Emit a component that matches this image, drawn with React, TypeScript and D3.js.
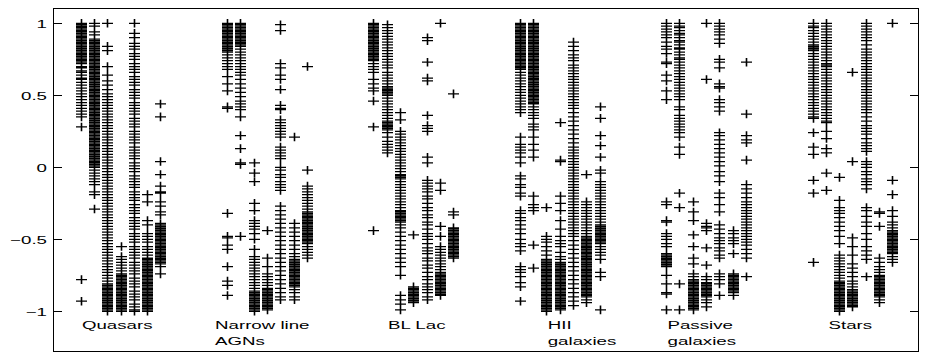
import React from 'react';
import * as d3 from 'd3';

// Category labels (one entry per line)
const categories = [
  ['Quasars'],
  ['Narrow line', 'AGNs'],
  ['BL Lac'],
  ['HII', 'galaxies'],
  ['Passive', 'galaxies'],
  ['Stars'],
];

const yTicks = [1, 0.5, 0, -0.5, -1];
const yTickLabels = ['1', '0.5', '0', '\u22120.5', '\u22121'];

// Values, one array per column (7 columns per category)
const quasars = [
  [1, .995, .99, .98, .975, .97, .96, .95, .945, .94, .93, .92, .91, .90, .89, .88, .87, .86, .85, .84, .83, .82, .81, .80, .79, .78, .77, .76, .75, .74, .73, .72, .70, .69, .67, .66, .64, .62, .61, .59, .57, .55, .53, .51, .49, .47, .45, .43, .41, .39, .37, .35, .28, -.78, -.93],
  [1, .98, .94, .92, .89, .88, .87, .86, .85, .84, .83, .82, .81, .80, .79, .78, .77, .76, .75, .74, .73, .72, .71, .70, .69, .68, .67, .66, .65, .64, .63, .62, .61, .60, .59, .58, .57, .56, .55, .54, .53, .52, .51, .50, .49, .48, .47, .46, .45, .44, .43, .42, .41, .40, .39, .38, .37, .36, .35, .34, .33, .32, .31, .30, .29, .28, .27, .26, .25, .24, .23, .22, .21, .20, .19, .18, .17, .16, .15, .14, .13, .12, .11, .10, .09, .08, .07, .06, .05, .04, .03, .02, .01, 0, -.02, -.04, -.06, -.08, -.10, -.12, -.17, -.19, -.29],
  [1, .84, .81, .70, .64, .60, .57, .54, .51, .49, .47, .45, .43, .41, .39, .37, .35, .33, .31, .29, .27, .25, .23, .21, .19, .17, .15, .13, .11, .09, .07, .05, .03, .01, -.01, -.03, -.05, -.07, -.09, -.11, -.13, -.15, -.17, -.19, -.21, -.23, -.25, -.27, -.29, -.31, -.33, -.35, -.37, -.39, -.41, -.43, -.45, -.47, -.49, -.51, -.53, -.55, -.57, -.59, -.61, -.63, -.65, -.67, -.69, -.71, -.73, -.75, -.77, -.79, -.81, -.82, -.83, -.84, -.85, -.86, -.87, -.88, -.89, -.90, -.91, -.92, -.93, -.94, -.95, -.96, -.97, -.98, -.99, -1],
  [-.55, -.62, -.64, -.66, -.68, -.70, -.72, -.74, -.75, -.76, -.77, -.78, -.79, -.80, -.81, -.82, -.83, -.84, -.85, -.86, -.87, -.88, -.89, -.90, -.91, -.92, -.93, -.94, -.95, -.96, -.97, -.98, -.99, -1],
  [1, .93, .90, .86, .84, .82, .79, .77, .75, .72, .70, .68, .66, .63, .61, .59, .57, .54, .52, .50, .48, .45, .43, .41, .39, .37, .34, .32, .30, .28, .25, .23, .21, .19, .17, .14, .12, .10, .08, .06, .03, .01, -.01, -.03, -.06, -.08, -.10, -.12, -.14, -.17, -.19, -.21, -.23, -.26, -.28, -.30, -.32, -.35, -.37, -.39, -.41, -.43, -.46, -.48, -.50, -.52, -.55, -.57, -.59, -.61, -.63, -.66, -.68, -.70, -.72, -.74, -.77, -.79, -.81, -.83, -.86, -.88, -.90, -.92, -.95, -.97, -.99, -1],
  [-.19, -.24, -.37, -.40, -.46, -.48, -.50, -.52, -.55, -.57, -.59, -.61, -.63, -.64, -.65, -.66, -.67, -.68, -.69, -.70, -.71, -.72, -.73, -.74, -.75, -.76, -.77, -.78, -.79, -.80, -.81, -.82, -.83, -.84, -.85, -.86, -.87, -.88, -.89, -.90, -.91, -.92, -.93, -.94, -.95, -.96, -.97, -.98, -.99, -1],
  [.44, .35, .04, -.05, -.13, -.17, -.18, -.24, -.27, -.31, -.33, -.39, -.40, -.41, -.42, -.43, -.44, -.45, -.46, -.47, -.48, -.49, -.50, -.51, -.52, -.53, -.54, -.55, -.56, -.57, -.58, -.59, -.60, -.61, -.62, -.63, -.64, -.65, -.66, -.67, -.69, -.74],
];

const narrowLineAgns = [
  [1, .99, .98, .97, .96, .95, .94, .93, .92, .91, .90, .89, .88, .87, .86, .85, .84, .83, .82, .81, .80, .78, .76, .74, .72, .70, .68, .63, .58, .53, .42, .41, -.32, -.48, -.49, -.54, -.57, -.69, -.79, -.82, -.89],
  [1, .99, .98, .97, .96, .95, .94, .93, .92, .91, .90, .89, .88, .87, .86, .85, .84, .82, .80, .78, .76, .74, .72, .70, .68, .66, .64, .61, .58, .55, .52, .49, .46, .44, .42, .40, .35, .22, .13, .03, .02, -.48],
  [.03, -.04, -.10, -.25, -.30, -.37, -.39, -.41, -.43, -.46, -.50, -.57, -.62, -.64, -.66, -.68, -.70, -.72, -.74, -.76, -.78, -.80, -.82, -.84, -.86, -.87, -.88, -.89, -.90, -.91, -.92, -.93, -.94, -.95, -.96, -.97, -.98, -.99, -1],
  [-.44, -.63, -.69, -.74, -.76, -.78, -.80, -.82, -.84, -.85, -.86, -.87, -.88, -.89, -.90, -.91, -.92, -.93, -.94, -.95, -.96, -.97, -.98, -.99],
  [.99, .95, .72, .69, .64, .61, .54, .43, .41, .40, .33, .31, .29, .27, .25, .23, .21, .14, .12, .10, .08, .06, 0, -.02, -.05, -.07, -.10, -.12, -.14, -.16, -.27, -.30, -.33, -.36, -.39, -.42, -.45, -.48, -.51, -.54, -.57, -.60, -.63, -.66, -.69, -.72, -.75, -.78, -.81, -.84, -.87, -.90, -.92],
  [.21, -.39, -.42, -.45, -.48, -.51, -.54, -.57, -.60, -.62, -.64, -.65, -.66, -.67, -.68, -.69, -.70, -.71, -.72, -.73, -.74, -.75, -.76, -.77, -.78, -.79, -.80, -.81, -.82, -.83, -.85, -.87, -.90, -.92],
  [.70, -.02, -.13, -.15, -.17, -.19, -.21, -.23, -.25, -.27, -.29, -.31, -.32, -.33, -.34, -.35, -.36, -.37, -.38, -.39, -.40, -.41, -.42, -.43, -.44, -.45, -.46, -.47, -.48, -.49, -.50, -.51, -.52, -.53, -.55, -.57, -.59, -.61, -.63],
];

const blLac = [
  [1, .99, .98, .97, .96, .95, .94, .93, .92, .91, .90, .89, .88, .87, .86, .85, .84, .83, .82, .81, .80, .79, .78, .77, .76, .75, .74, .72, .70, .68, .66, .61, .58, .55, .53, .46, .28, -.44],
  [.99, .97, .95, .93, .91, .89, .87, .85, .83, .81, .79, .77, .75, .73, .71, .69, .66, .64, .62, .60, .58, .56, .55, .54, .53, .52, .51, .50, .48, .46, .44, .42, .40, .38, .36, .34, .32, .31, .30, .29, .28, .27, .26, .24, .21, .18, .16, .14, .12, .10],
  [.38, .33, .25, .23, .21, .19, .17, .15, .13, .11, .09, .07, .05, .03, .01, -.01, -.03, -.05, -.06, -.07, -.08, -.10, -.12, -.14, -.16, -.18, -.20, -.22, -.24, -.26, -.28, -.30, -.31, -.32, -.33, -.34, -.35, -.36, -.37, -.38, -.40, -.42, -.45, -.48, -.51, -.54, -.57, -.60, -.63, -.66, -.69, -.75, -.89, -.92, -.95, -.99],
  [-.47, -.83, -.84, -.85, -.86, -.87, -.88, -.89, -.90, -.91, -.92, -.93, -.94],
  [.90, .88, .73, .62, .60, .36, .29, .27, .25, .07, .03, -.09, -.11, -.13, -.15, -.17, -.20, -.22, -.25, -.28, -.30, -.33, -.35, -.38, -.40, -.43, -.46, -.48, -.50, -.53, -.56, -.58, -.60, -.63, -.65, -.68, -.70, -.73, -.76, -.78, -.81, -.83, -.85, -.87, -.90, -.92],
  [1, -.11, -.16, -.41, -.48, -.55, -.57, -.59, -.61, -.63, -.65, -.67, -.69, -.71, -.73, -.74, -.75, -.76, -.77, -.78, -.79, -.80, -.81, -.82, -.83, -.84, -.85, -.86, -.87, -.88, -.89],
  [.51, -.31, -.33, -.42, -.43, -.44, -.45, -.46, -.47, -.48, -.49, -.50, -.51, -.52, -.53, -.54, -.55, -.56, -.57, -.58, -.59, -.60, -.61, -.62, -.63],
];

const hiiGalaxies = [
  [1, .99, .98, .97, .96, .95, .94, .93, .92, .91, .90, .89, .88, .87, .86, .85, .84, .83, .82, .81, .80, .79, .78, .77, .76, .75, .74, .73, .72, .71, .70, .69, .68, .66, .64, .62, .60, .58, .56, .54, .52, .50, .48, .46, .44, .42, .40, .38, .21, .16, .14, .12, .10, .07, .03, -.06, -.08, -.12, -.14, -.18, -.20, -.30, -.32, -.35, -.37, -.40, -.43, -.46, -.50, -.53, -.55, -.58, -.69, -.71, -.73, -.76, -.80, -.83, -.93],
  [1, .99, .98, .97, .96, .95, .94, .93, .92, .91, .90, .89, .88, .87, .86, .85, .84, .83, .82, .81, .80, .79, .78, .77, .76, .75, .74, .73, .72, .71, .70, .69, .68, .67, .66, .65, .64, .63, .62, .61, .60, .59, .58, .57, .56, .55, .54, .53, .52, .51, .50, .49, .48, .47, .46, .45, .44, .42, .40, .38, .36, .34, .30, .28, .26, .21, .16, .12, .07, -.20, -.26, -.28, -.30, -.54, -.70],
  [-.28, -.48, -.50, -.52, -.55, -.58, -.61, -.64, -.65, -.66, -.67, -.68, -.69, -.70, -.71, -.72, -.73, -.74, -.75, -.76, -.77, -.78, -.79, -.80, -.81, -.82, -.83, -.84, -.85, -.86, -.87, -.88, -.89, -.90, -.91, -.92, -.93, -.94, -.95, -.96, -.97, -.98, -.99, -1],
  [.31, .05, .04, -.20, -.25, -.30, -.37, -.43, -.48, -.51, -.53, -.55, -.59, -.62, -.64, -.66, -.67, -.68, -.69, -.70, -.71, -.72, -.73, -.74, -.75, -.76, -.77, -.78, -.79, -.80, -.81, -.82, -.83, -.84, -.85, -.86, -.87, -.88, -.89, -.90, -.91, -.92, -.93, -.94, -.95, -.96, -.97, -.98, -.99],
  [.87, .84, .81, .78, .76, .74, .71, .69, .67, .65, .63, .61, .59, .57, .55, .53, .51, .49, .47, .45, .43, .41, .38, .35, .32, .29, .26, .23, .20, .17, .14, .12, .10, .08, .06, .04, .02, 0, -.02, -.04, -.06, -.08, -.10, -.12, -.14, -.16, -.18, -.20, -.22, -.24, -.26, -.28, -.30, -.32, -.34, -.36, -.38, -.40, -.42, -.44, -.46, -.48, -.51, -.54, -.57, -.60, -.63, -.66, -.69, -.72, -.75, -.78, -.81, -.84, -.87, -.90, -.93, -.96],
  [-.05, -.24, -.26, -.28, -.30, -.32, -.34, -.36, -.38, -.40, -.42, -.44, -.46, -.48, -.49, -.50, -.51, -.52, -.53, -.54, -.55, -.56, -.57, -.58, -.59, -.60, -.61, -.62, -.63, -.64, -.65, -.66, -.67, -.68, -.69, -.70, -.71, -.72, -.73, -.74, -.75, -.76, -.77, -.78, -.79, -.80, -.81, -.82, -.83, -.84, -.85, -.86, -.87, -.88, -.89, -.90, -.92, -.94],
  [.42, .34, .22, .15, .07, -.02, -.04, -.10, -.12, -.14, -.16, -.18, -.20, -.22, -.24, -.26, -.28, -.30, -.32, -.34, -.36, -.38, -.40, -.41, -.42, -.43, -.44, -.45, -.46, -.47, -.48, -.49, -.50, -.51, -.52, -.53, -.55, -.57, -.59, -.61, -.64, -.73, -.76, -.99],
];

const passiveGalaxies = [
  [1, .98, .96, .94, .92, .90, .87, .84, .82, .79, .73, .72, .64, .60, .53, .47, -.24, -.26, -.37, -.38, -.46, -.48, -.50, -.53, -.55, -.60, -.61, -.62, -.63, -.64, -.65, -.66, -.67, -.68, -.69, -.75, -.81, -.87, -.88, -.99],
  [1, .98, .97, .95, .93, .92, .90, .88, .87, .85, .83, .82, .80, .78, .76, .75, .73, .71, .69, .67, .65, .63, .61, .59, .57, .55, .53, .51, .49, .47, .42, .40, .36, .34, .32, .30, .28, .26, .24, .21, .14, .09, -.18, -.28, -.81, -.99],
  [-.24, -.31, -.37, -.47, -.55, -.63, -.67, -.74, -.76, -.78, -.79, -.80, -.81, -.82, -.83, -.84, -.85, -.86, -.87, -.88, -.89, -.90, -.91, -.92, -.93, -.94, -.95, -.96, -.97, -.98, -.99],
  [1, .61, -.39, -.41, -.42, -.44, -.56, -.68, -.76, -.78, -.80, -.81, -.82, -.83, -.84, -.85, -.86, -.87, -.88, -.89, -.90, -.92, -.94, -.97],
  [1, .98, .96, .94, .92, .89, .86, .75, .73, .69, .58, .56, .55, .47, .45, .42, .39, .24, .22, .19, .16, .13, .10, .07, .04, .01, -.03, -.06, -.10, -.18, -.21, -.26, -.31, -.40, -.43, -.46, -.49, -.51, -.53, -.56, -.58, -.61, -.63, -.74, -.76, -.78, -.81, -.89],
  [-.44, -.46, -.49, -.51, -.53, -.60, -.74, -.75, -.76, -.77, -.78, -.79, -.80, -.81, -.82, -.83, -.84, -.85, -.86, -.87, -.89],
  [.73, .37, .22, .19, .17, .05, -.12, -.15, -.18, -.21, -.24, -.26, -.28, -.30, -.32, -.34, -.36, -.38, -.40, -.42, -.44, -.46, -.48, -.50, -.52, -.54, -.57, -.60, -.63, -.76],
];

const stars = [
  [1, .98, .97, .95, .93, .91, .89, .87, .85, .84, .83, .82, .81, .79, .77, .75, .73, .71, .69, .67, .65, .63, .61, .59, .57, .55, .53, .51, .49, .47, .45, .43, .41, .39, .37, .35, .34, .24, .14, .09, -.09, -.18, -.66],
  [1, .98, .96, .94, .92, .90, .88, .86, .84, .82, .80, .78, .76, .74, .72, .71, .70, .68, .66, .64, .62, .60, .58, .56, .54, .52, .50, .48, .46, .44, .42, .40, .38, .36, .34, .32, .31, .25, .20, .13, .10, -.04, -.16],
  [-.07, -.23, -.28, -.30, -.32, -.35, -.38, -.41, -.44, -.48, -.53, -.61, -.63, -.65, -.67, -.69, -.71, -.73, -.75, -.77, -.79, -.80, -.81, -.82, -.83, -.84, -.85, -.86, -.87, -.88, -.89, -.90, -.91, -.92, -.93, -.94, -.95, -.96, -.97, -.98, -.99, -1],
  [.66, .04, -.49, -.55, -.61, -.67, -.70, -.73, -.76, -.79, -.81, -.83, -.85, -.86, -.87, -.88, -.89, -.90, -.91, -.92, -.93, -.94, -.95, -.96, -.97],
  [1, .98, .96, .94, .92, .90, .88, .85, .82, .80, .78, .76, .74, .72, .70, .68, .66, .64, .62, .60, .58, .56, .54, .52, .50, .48, .46, .44, .42, .40, .38, .35, .32, .29, .27, .25, .23, .20, .17, .15, .13, .11, .04, .02, 0, -.03, -.05, -.08, -.10, -.12, -.15, -.28, -.30, -.34, -.38, -.41, -.46, -.50, -.55, -.58, -.61, -.64, -.76],
  [-.31, -.32, -.41, -.63, -.66, -.69, -.71, -.73, -.75, -.76, -.77, -.78, -.79, -.80, -.81, -.82, -.83, -.84, -.85, -.86, -.87, -.88, -.89, -.90, -.92, -.94],
  [1, -.09, -.19, -.30, -.34, -.38, -.40, -.42, -.44, -.45, -.46, -.47, -.48, -.49, -.50, -.51, -.52, -.53, -.54, -.55, -.56, -.57, -.58, -.59, -.60, -.62, -.64, -.66],
];

const groups = [quasars, narrowLineAgns, blLac, hiiGalaxies, passiveGalaxies, stars];

const W = 926;
const H = 360;
const box = { left: 54, top: 9, right: 919, bottom: 352 };
const FONT = '"Liberation Sans", Arial, Helvetica, sans-serif';
const SX = 1.7; // the source render is stretched horizontally

// column index in axis units: group g, column c -> g*11 + c + 1
const colPos = (g: number, c: number) => g * 11 + c + 1;
const labelPos = [1.1, 11.1, 24.1, 36.1, 45.1, 57.2];

export default function App() {
  const x = d3.scaleLinear().domain([-1, 64]).range([box.left, box.right]);
  const y = d3.scaleLinear().domain([-1, 1]).range([311.3, 23.3]);

  // horizontal and vertical arms of the "+" markers, one path per column
  const hPaths: string[] = [];
  const vPaths: string[] = [];
  groups.forEach((cols, g) => {
    cols.forEach((vals, c) => {
      const px = Math.round(x(colPos(g, c))) + 0.5;
      hPaths.push(vals.map(v => `M${px - 5.5},${y(v)}H${px + 5.5}`).join(''));
      vPaths.push(vals.map(v => `M${px},${y(v) - 4.3}V${y(v) + 4.3}`).join(''));
    });
  });

  return (
    <svg width={W} height={H} style={{ position: 'absolute', left: 0, top: 0, background: '#fff' }}>
      <rect x={0} y={0} width={W} height={H} fill="#fff" />
      {hPaths.map((d, i) => (
        <path key={'h' + i} d={d} stroke="#000" strokeWidth={1.25} fill="none" />
      ))}
      {vPaths.map((d, i) => (
        <path key={'v' + i} d={d} stroke="#000" strokeWidth={1.6} fill="none" />
      ))}
      <rect
        x={box.left - 0.5}
        y={box.top - 0.5}
        width={box.right - box.left}
        height={box.bottom - box.top}
        fill="none"
        stroke="#000"
        strokeWidth={1}
      />
      {yTicks.map((t, i) => {
        const ty = Math.round(y(t)) + 0.5;
        return (
          <g key={i}>
            <line x1={box.left} x2={box.left + 8} y1={ty} y2={ty} stroke="#000" />
            <line x1={box.right - 9} x2={box.right - 1} y1={ty} y2={ty} stroke="#000" />
            <text
              transform={`translate(47,${ty + 4}) scale(${SX},1)`}
              textAnchor="end"
              fontFamily={FONT}
              fontSize={11}
              fill="#000"
            >
              {yTickLabels[i]}
            </text>
          </g>
        );
      })}
      {categories.map((lines, g) =>
        lines.map((s, k) => (
          <text
            key={`${g}-${k}`}
            transform={`translate(${x(labelPos[g])},${329 + k * 15.5}) scale(${SX},1)`}
            fontFamily={FONT}
            fontSize={11}
            fill="#000"
          >
            {s}
          </text>
        ))
      )}
    </svg>
  );
}
